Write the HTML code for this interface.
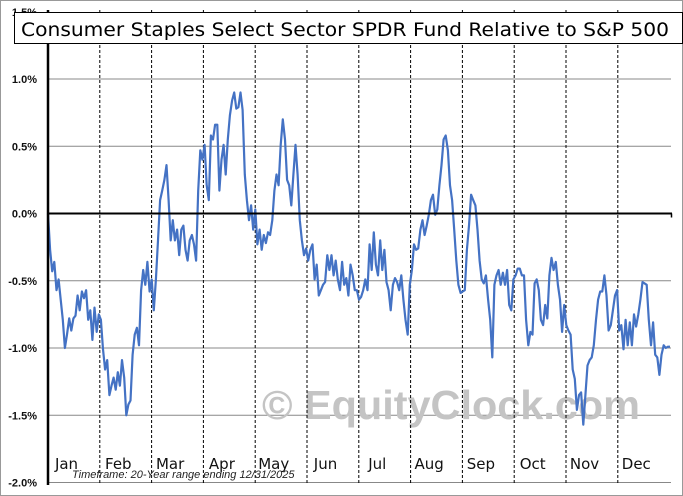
<!DOCTYPE html>
<html><head><meta charset="utf-8"><style>
body{margin:0;background:#fff;}
svg{display:block;font-family:"Liberation Sans",sans-serif;}
</style></head><body>
<svg id="chart" width="683" height="496" viewBox="0 0 683 496">
<rect x="0.5" y="0.5" width="682" height="495" fill="#fff" stroke="#999"/>
<g id="grid"></g>
<text x="451" y="419" font-size="41" font-weight="bold" fill="#c4c4c4" text-anchor="middle" textLength="378" lengthAdjust="spacingAndGlyphs">© EquityClock.com</text>
<g id="months"></g>
<polyline id="series" fill="none" stroke="#4472c4" stroke-width="2.2" stroke-linejoin="round"/>
<g id="axes"></g>
<text x="72" y="478" font-size="11" font-style="italic" fill="#222">Timeframe:  20-Year range ending 12/31/2025</text>
<rect x="14.5" y="12.5" width="668" height="31" fill="#fff" stroke="#000"/>
<text x="21" y="36" font-size="19" fill="#000" font-family="DejaVu Sans, sans-serif" textLength="648" lengthAdjust="spacingAndGlyphs">Consumer Staples Select Sector SPDR Fund Relative to S&amp;P 500</text>
</svg>
<script>
const months=["Jan","Feb","Mar","Apr","May","Jun","Jul","Aug","Sep","Oct","Nov","Dec"];
const yTicks=[1.5,1.0,0.5,0.0,-0.5,-1.0,-1.5,-2.0];
const yTickLabels=["1.5%","1.0%","0.5%","0.0%","-0.5%","-1.0%","-1.5%","-2.0%"];
const values=[0,-0.27,-0.43,-0.36,-0.57,-0.49,-0.64,-0.79,-1.00,-0.90,-0.78,-0.87,-0.78,-0.76,-0.61,-0.72,-0.58,-0.63,-0.57,-0.79,-0.72,-0.94,-0.70,-0.88,-0.75,-0.79,
-1.01,-1.16,-1.09,-1.35,-1.28,-1.22,-1.31,-1.18,-1.28,-1.09,-1.22,-1.50,-1.42,-1.39,-1.05,-0.90,-0.85,-0.98,-0.57,-0.42,-0.53,-0.36,-0.58,-0.49,-0.72,
-0.49,-0.20,0.10,0.17,0.25,0.36,0.10,-0.20,-0.05,-0.20,-0.12,-0.31,-0.12,-0.09,-0.27,-0.35,-0.20,-0.16,-0.23,-0.35,0.17,0.47,0.40,0.51,0.21,
0.10,0.58,0.55,0.66,0.66,0.17,0.40,0.51,0.29,0.55,0.73,0.84,0.90,0.78,0.79,0.90,0.77,0.29,0.10,-0.05,0.06,-0.12,0.03,
-0.23,-0.12,-0.27,-0.16,-0.22,-0.14,-0.16,-0.05,0.17,0.29,0.21,0.51,0.70,0.55,0.25,0.21,0.06,0.29,0.51,0.29,-0.05,-0.20,-0.31,-0.26,-0.35,
-0.27,-0.23,-0.49,-0.38,-0.61,-0.57,-0.53,-0.51,-0.31,-0.42,-0.31,-0.46,-0.35,-0.49,-0.57,-0.36,-0.53,-0.48,-0.61,-0.38,-0.46,-0.57,-0.57,-0.64,-0.62,
-0.57,-0.49,-0.57,-0.23,-0.42,-0.14,-0.38,-0.46,-0.20,-0.42,-0.27,-0.51,-0.57,-0.72,-0.53,-0.48,-0.51,-0.57,-0.46,-0.64,-0.79,-0.90,-0.53,-0.42,-0.23,
-0.27,-0.26,-0.12,-0.05,-0.16,-0.09,-0.01,0.10,0.14,-0.01,0.03,0.21,0.36,0.55,0.58,0.47,0.21,0.10,-0.12,-0.35,-0.53,-0.59,-0.58,-0.57,-0.27,
-0.09,0.14,0.10,0.06,-0.12,-0.35,-0.49,-0.52,-0.46,-0.64,-0.79,-1.07,-0.53,-0.46,-0.42,-0.53,-0.44,-0.53,-0.42,-0.68,-0.72,-0.49,
-0.46,-0.41,-0.41,-0.46,-0.46,-0.79,-0.98,-0.88,-0.90,-0.52,-0.49,-0.57,-0.79,-0.83,-0.68,-0.78,-0.46,-0.33,-0.42,-0.36,-0.53,-0.64,-0.88,-0.68,-0.83,-0.87,
-0.90,-1.16,-1.23,-1.46,-1.35,-1.33,-1.57,-1.35,-1.13,-1.09,-1.07,-0.98,-0.79,-0.64,-0.58,-0.58,-0.46,-0.61,-0.87,-0.83,-0.72,-0.61,-0.57,-0.87,
-0.83,-1.01,-0.79,-0.98,-0.81,-0.98,-0.75,-0.84,-0.75,-0.64,-0.51,-0.52,-0.53,-0.79,-0.98,-0.81,-1.05,-1.07,-1.20,-1.05,-0.98,-1.00,-0.99,-0.99];
const X0=48,X1=671,Y0=213.5,PX=134.5,MW=51.8;
const yS=v=>Y0-v*PX;
const xS=i=>X0+i*(X1-1-X0)/(values.length-1);
const monthX=m=>X0+m*MW;
const NS="http://www.w3.org/2000/svg";
function mk(tag,attrs,parent,txt){const e=document.createElementNS(NS,tag);for(const k in attrs)e.setAttribute(k,attrs[k]);if(txt!==undefined)e.textContent=txt;parent.appendChild(e);return e;}
const grid=document.getElementById('grid'),axes=document.getElementById('axes'),mg=document.getElementById('months');
yTicks.forEach((t,i)=>{
  if(t!==0&&t!==1.5){const l=mk('line',{x1:X0,x2:X1,y1:yS(t),y2:yS(t),stroke:'#888','stroke-width':1},grid);
  
  }
  const tx=mk('text',{x:37,y:yS(t)+4,'font-size':11,'font-weight':'bold','text-anchor':'end',fill:'#111'},axes,yTickLabels[i]);
  
  
});
months.forEach((m,i)=>{
  if(i>0){const l=mk('line',{x1:monthX(i),x2:monthX(i),y1:10,y2:484,stroke:'#000','stroke-width':1,'stroke-dasharray':'3,2'},mg);
  
  }
  const t=mk('text',{x:monthX(i)+18.5,y:469,'font-size':15,'text-anchor':'middle',fill:'#111','font-family':'DejaVu Sans, sans-serif'},mg,m);
  
  
});
document.getElementById('series').setAttribute('points',values.map((v,i)=>xS(i).toFixed(1)+','+yS(v).toFixed(1)).join(' '));
const ya=mk('line',{x1:X0,x2:X0,y1:10,y2:485,stroke:'#000','stroke-width':2.5},axes);


const za=mk('line',{x1:X0,x2:X1+1,y1:yS(0),y2:yS(0),stroke:'#000','stroke-width':2},axes);


const zt=mk('line',{x1:X1+0.5,x2:X1+0.5,y1:yS(0),y2:yS(0)+4,stroke:'#000','stroke-width':1.5},axes);


</script>
</body></html>
